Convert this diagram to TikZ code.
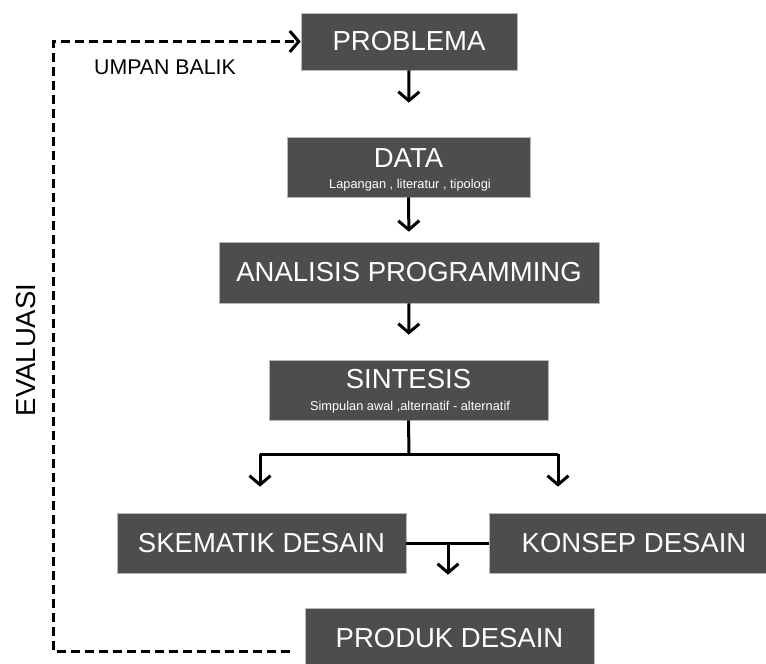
\documentclass[tikz,border=0pt]{standalone}
\usepackage{fontspec}
\setmainfont{Liberation Sans}
\usetikzlibrary{arrows.meta,calc}
\definecolor{boxgray}{HTML}{4D4D4D}
\begin{document}
\begin{tikzpicture}[x=1pt,y=-1pt,
  stagebox/.style={fill=boxgray, draw=black!28, line width=0.6pt, inner sep=0pt, text=white,
                   font=\fontsize{27.5}{30}\selectfont},
  title/.style={text=white, inner sep=0pt, font=\fontsize{27.5}{30}\selectfont},
  sub/.style={text=white, inner sep=0pt, font=\fontsize{12.8}{15}\selectfont},
  flow/.style={line width=3pt, line join=round},
  arr/.style={flow, -{Straight Barb[length=9pt,width=21pt]}},
  feedback/.style={line width=3pt, dash pattern=on 9pt off 5pt,
                   -{Straight Barb[length=9pt,width=21pt]}}
]
\useasboundingbox (0,0) rectangle (766,664);

% stage boxes
\node[stagebox, minimum width=216pt, minimum height=57pt] (problema) at (409,41.5) {PROBLEMA};
\node[stagebox, minimum width=243pt, minimum height=60pt] (data) at (408.5,167) {};
\node[title] (datat) at (408.5,158) {DATA};
\node[sub] (datas) at (410,185) {Lapangan , literatur , tipologi};
\node[stagebox, minimum width=380pt, minimum height=61pt] (analisis) at (409,272.5) {ANALISIS PROGRAMMING};
\node[stagebox, minimum width=279pt, minimum height=60pt] (sintesis) at (408.5,390) {};
\node[title] (sintesist) at (408.5,379.5) {SINTESIS};
\node[sub] (sintesiss) at (410,407) {Simpulan awal ,alternatif - alternatif};
\node[stagebox, minimum width=289pt, minimum height=60pt] (skematik) at (261.5,543) {SKEMATIK DESAIN};
\node[stagebox, minimum width=279pt, minimum height=60pt] (konsep) at (628.5,543) {};
\node[title] (konsept) at (634,543) {KONSEP DESAIN};
\node[stagebox, minimum width=289pt, minimum height=60pt] (produk) at (449.5,638) {PRODUK DESAIN};

% side labels
\node[inner sep=0pt, font=\fontsize{21.3}{24}\selectfont] (umpan) at (165,67) {UMPAN BALIK};
\node[inner sep=0pt, rotate=90, font=\fontsize{27.5}{30}\selectfont] (evaluasi) at (26,350) {EVALUASI};

% main flow
\draw[arr, shorten >=34pt] (problema.south) -- (data.north);
\draw[arr, shorten >=10pt] (data.south) -- (analisis.north);
\draw[arr, shorten >=25pt] (analisis.south) -- (sintesis.north);

% branch to the two design stages
\coordinate (split) at (409,454);
\coordinate (bl) at (260,454);
\coordinate (br) at (558,454);
\draw[flow] (sintesis.south) -- (split);
\draw[flow] (bl) -- (br);
\draw[arr, shorten >=26pt] (bl) -- (bl |- skematik.north);
\draw[arr, shorten >=26pt] (br) -- (br |- konsep.north);

% merge into the design product
\coordinate (join) at (448,543);
\draw[flow] (skematik.east) -- (konsep.west);
\draw[arr, shorten >=33pt] (join) -- (join |- produk.north);

% evaluation feedback loop
\coordinate (fbstart) at (290,651);
\coordinate (fbcorner) at (53,651);
\draw[feedback] (fbstart) -- (fbcorner) |- (problema.west);
\end{tikzpicture}
\end{document}
